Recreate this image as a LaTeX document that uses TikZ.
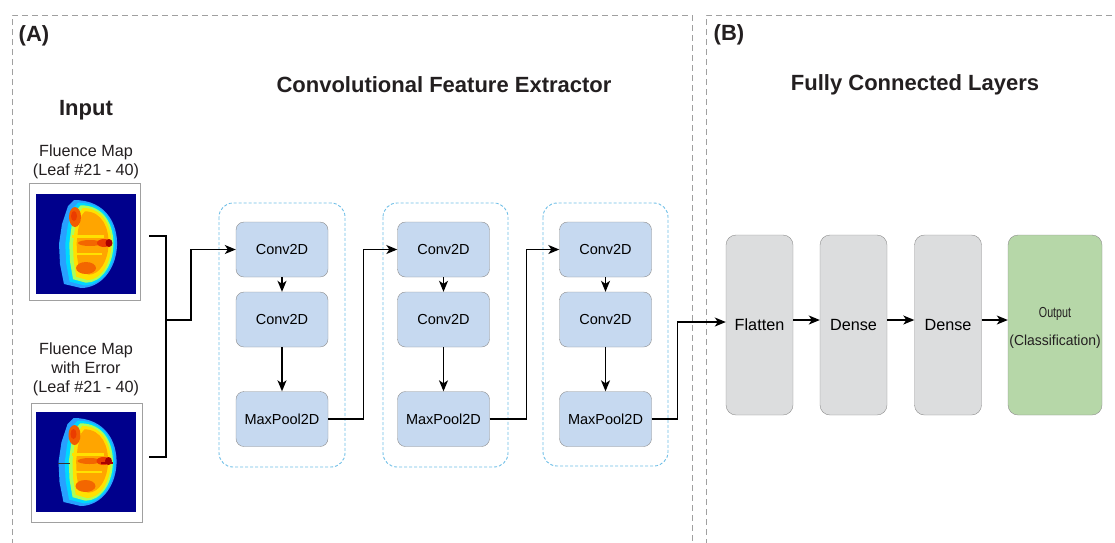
\documentclass[tikz,border=0pt]{standalone}
\usepackage{fontspec}
\setmainfont{Liberation Sans}
\usetikzlibrary{arrows.meta}
\definecolor{panelgray}{RGB}{160,160,160}
\definecolor{dashblue}{RGB}{110,190,230}
\definecolor{convfill}{RGB}{198,217,240}
\definecolor{boxline}{RGB}{140,140,140}
\definecolor{fcfill}{RGB}{220,221,222}
\definecolor{outfill}{RGB}{182,215,168}
\definecolor{txt}{RGB}{35,31,32}
\definecolor{mapblue}{RGB}{0,0,140}
\definecolor{jlb}{RGB}{40,160,255}
\definecolor{jcy}{RGB}{0,215,255}
\definecolor{jgr}{RGB}{170,255,90}
\definecolor{jye}{RGB}{255,225,0}
\definecolor{jor}{RGB}{255,165,0}
\definecolor{jre}{RGB}{235,60,0}
\definecolor{jdr}{RGB}{170,0,0}
\tikzset{
  dpath/.style={insert path={(-12,-44) .. controls (20,-44) and (32,-20) .. (31,2) .. controls (30,25) and (15,44) .. (-5,44) -- (-22,40) -- (-26,20) -- (-27,0) -- (-24,-20) -- (-18,-38) -- cycle}},
  fmap/.pic={
    \fill[mapblue] (-50,-50) rectangle (50,50);
    \path[fill=jlb, dpath];
    \begin{scope}[shift={(2.5,0)}, xscale=0.86, yscale=0.94] \path[fill=jcy, dpath]; \end{scope}
    \begin{scope}[shift={(3.8,0)}, xscale=0.76, yscale=0.88] \path[fill=jgr, dpath]; \end{scope}
    \begin{scope}[shift={(4.8,0)}, xscale=0.66, yscale=0.82] \path[fill=jye, dpath]; \end{scope}
    \begin{scope}[shift={(5.5,-1)}, xscale=0.55, yscale=0.72] \path[fill=jor, dpath]; \end{scope}
    \fill[jye] (-14,-9) rectangle (18,-6);
    \fill[jye] (-12,9) rectangle (16,11);
    \fill[jre!70!jor] (-11,-27) ellipse [x radius=6, y radius=10];
    \fill[jre] (-12,-28) ellipse [x radius=3, y radius=5];
    \fill[jre!60!jor] (0,24) ellipse [x radius=10, y radius=6];
    \fill[jre!60!jor] (4,-1) ellipse [x radius=12, y radius=3];
    \fill[jre] (18,-1) ellipse [x radius=7, y radius=4];
    \fill[jdr] (23,-1) ellipse [x radius=3.5, y radius=4];
  },
  panel/.style={draw=panelgray, line width=0.9pt, dash pattern=on 6pt off 4pt},
  blkbox/.style={draw=dashblue, line width=0.9pt, dash pattern=on 3pt off 2pt, rounded corners=14pt},
  convbox/.style={draw=boxline, fill=convfill, rounded corners=8pt, minimum width=92pt, minimum height=55pt, inner sep=0pt, font=\fontsize{14.5}{17}\selectfont},
  fcbox/.style={draw=boxline, fill=fcfill, rounded corners=10pt, minimum width=67pt, minimum height=180pt, inner sep=0pt, font=\fontsize{16.2}{19}\selectfont},
  frame/.style={draw=panelgray, line width=0.8pt, inner sep=0pt},
  title/.style={font=\bfseries\fontsize{22}{25}\selectfont, text=txt},
  tag/.style={font=\bfseries\fontsize{22}{25}\selectfont, text=txt},
  lbl/.style={font=\fontsize{16.2}{19}\selectfont, text=txt, align=center},
  conn/.style={line width=1.4pt, black},
  arr/.style={conn, -{Stealth[length=11pt, width=9pt, inset=3pt]}}
}
\begin{document}
\begin{tikzpicture}[x=1pt, y=-1pt]
\useasboundingbox (0,0) rectangle (1115,542);
% panels
\draw[panel] (12,545) -- (12,15) -- (692,15) -- (692,545);
\draw[panel] (706,545) -- (706,15) -- (1118,15);
\node[tag] (tagA) at (34,36) {(A)};
\node[tag] (tagB) at (729,35) {(B)};
\node[title] (tconv) at (444,85) {Convolutional Feature Extractor};
\node[title] (tfc) at (915,85) {Fully Connected Layers};
\node[title] (tin) at (86,110) {Input};
% inputs
\node[lbl] (l1) at (86,162) {Fluence Map\\(Leaf \#21 - 40)};
\node[frame, minimum width=111pt, minimum height=117pt] (f1) at (84.5,241.5) {};
\pic at (86,244) {fmap};
\node[lbl] (l2) at (86,369) {Fluence Map\\with Error\\(Leaf \#21 - 40)};
\node[frame, minimum width=111pt, minimum height=119pt] (f2) at (86.5,462.5) {};
\pic at (85.5,462) {fmap};
\draw[black!80, line width=0.8pt] (58,463) -- (70,463);
\draw[jdr, line width=1.5pt] (101,463) -- (113,463);
% containers
\draw[blkbox] (219,203) rectangle (345,467);
\draw[blkbox] (383,203) rectangle (508,467);
\draw[blkbox] (543,203) rectangle (668,466);
% conv boxes
\node[convbox] (c11) at (282,249.5) {Conv2D};
\node[convbox] (c12) at (282,319.5) {Conv2D};
\node[convbox] (m1) at (282,419) {MaxPool2D};
\node[convbox] (c21) at (443.5,249.5) {Conv2D};
\node[convbox] (c22) at (443.5,319.5) {Conv2D};
\node[convbox] (m2) at (443.5,419) {MaxPool2D};
\node[convbox] (c31) at (605.5,249.5) {Conv2D};
\node[convbox] (c32) at (605.5,319.5) {Conv2D};
\node[convbox] (m3) at (605.5,419) {MaxPool2D};
% fc boxes
\node[fcbox] (flat) at (759.5,325) {Flatten};
\node[fcbox] (d1) at (853.5,325) {Dense};
\node[fcbox] (d2) at (948,325) {Dense};
\node[fcbox, fill=outfill, minimum width=94pt] (out) at (1055,325) {};
\node[font=\fontsize{14.5}{28}\selectfont, align=center, inner sep=0pt, text=txt] (outtxt) at (1055,328) {\scalebox{0.74}[1]{Output}\\\scalebox{0.96}[1]{(Classification)}};
% input connectors
\coordinate (s1) at (149,236);
\coordinate (s2) at (149,457);
\coordinate (j) at (166,320);
\draw[conn] (s1) -| (j) |- (s2);
\draw[arr] (j) -- ++(25,0) |- (c11.west);
% inside blocks
\foreach \a/\b in {c11/c12, c12/m1, c21/c22, c22/m2, c31/c32, c32/m3}
  \draw[arr] (\a.south) -- (\b.north);
% between blocks
\draw[arr] (m1.east) -- ++(35,0) |- (c21.west);
\draw[arr] (m2.east) -- ++(37,0) |- (c31.west);
\draw[arr] (m3.east) -- ++(26,0) |- ([yshift=3pt]flat.west);
% fc arrows
\draw[arr] ([yshift=5pt]flat.east) -- ([yshift=5pt]d1.west);
\draw[arr] ([yshift=5pt]d1.east) -- ([yshift=5pt]d2.west);
\draw[arr] ([yshift=5pt]d2.east) -- ([yshift=5pt]out.west);
\end{tikzpicture}
\end{document}
